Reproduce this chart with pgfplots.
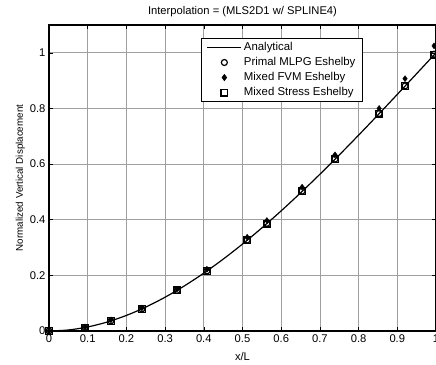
\documentclass[border=0pt]{standalone}
\usepackage{pgfplots}
\pgfplotsset{compat=1.18}
\usepackage{fontspec}
\setmainfont{Liberation Sans}
\begin{document}
\begin{tikzpicture}
\begin{axis}[
  name=ax,
  width=387pt, height=306pt, scale only axis,
  xmin=0, xmax=1, ymin=0, ymax=1.1,
  xtick={0,0.1,...,1.0},
  ytick={0,0.2,0.4,0.6,0.8,1},
  xticklabels={0,0.1,0.2,0.3,0.4,0.5,0.6,0.7,0.8,0.9,1},
  yticklabels={0,0.2,0.4,0.6,0.8,1},
  tick align=inside,
  major tick length=4pt,
  tick style={black, line width=0.6pt},
  grid=major,
  grid style={gray!75, line width=0.8pt},
  axis line style={black, line width=1.2pt},
  font=\fontsize{11.2}{13.4}\selectfont,
  ticklabel style={font=\fontsize{11.2}{13.4}\selectfont},
  /pgf/number format/assume math mode=true,
  title={Interpolation = (MLS2D1 w/ SPLINE4)},
  title style={font=\fontsize{11.2}{13.4}\selectfont, yshift=-1pt},
  xlabel={x/L},
  ylabel={Normalized Vertical Displacement},
  xlabel style={font=\fontsize{11.2}{13.4}\selectfont, yshift=-3pt},
  ylabel style={font=\fontsize{9.8}{11.5}\selectfont, yshift=-2pt},
  clip=false,
  legend style={at={(rel axis cs:0.811,0.957)}, anchor=north east,
    draw=black, fill=white, line width=0.8pt, font=\fontsize{11.4}{13.4}\selectfont,
    row sep=1.3pt, inner xsep=5pt, inner ysep=2pt},
  legend cell align=left,
  legend image code/.code={\draw[mark repeat=2,mark phase=2,#1] plot coordinates {(0pt,0pt) (17pt,0pt) (34pt,0pt)};},
]
\addplot[black, line width=1.2pt, smooth] coordinates {
(0,0) (0.05,0.00369) (0.1,0.0145) (0.15,0.03206) (0.2,0.056) (0.25,0.08594)
(0.3,0.1215) (0.35,0.1623) (0.4,0.208) (0.45,0.2582) (0.5,0.3125)
(0.55,0.3706) (0.6,0.432) (0.65,0.4964) (0.7,0.5635) (0.75,0.6328)
(0.8,0.704) (0.85,0.7767) (0.9,0.8505) (0.95,0.9251) (1,1)};
\addlegendentry{Analytical}
\addplot[only marks, mark=o, mark size=3pt, black, line width=1.2pt] coordinates {
(0,0) (0.093,0.0126) (0.16,0.0363) (0.24,0.0795) (0.331,0.146) (0.408,0.216)
(0.512,0.327) (0.563,0.387) (0.654,0.503) (0.739,0.618) (0.853,0.782) (0.92,0.881) (0.995,0.995)};
\addlegendentry{Primal MLPG Eshelby}
\addplot[only marks, mark=diamond*, mark size=3pt, black] coordinates {
(0,0) (0.093,0.014) (0.16,0.04) (0.24,0.083) (0.331,0.15) (0.408,0.222)
(0.512,0.337) (0.563,0.397) (0.654,0.517) (0.739,0.633) (0.853,0.80) (0.92,0.907) (0.995,1.025)};
\addlegendentry{Mixed FVM Eshelby}
\addplot[only marks, mark=square, mark size=3.3pt, black, line width=1.2pt] coordinates {
(0,0) (0.093,0.0126) (0.16,0.0363) (0.24,0.0795) (0.331,0.146) (0.408,0.216)
(0.512,0.326) (0.563,0.386) (0.654,0.502) (0.739,0.617) (0.853,0.781) (0.92,0.880) (0.995,0.993)};
\addlegendentry{Mixed Stress Eshelby}
\end{axis}
\pgfresetboundingbox
\path ([xshift=-49pt,yshift=-33pt]ax.south west) rectangle ([yshift=25pt]ax.north east);
\end{tikzpicture}
\end{document}
